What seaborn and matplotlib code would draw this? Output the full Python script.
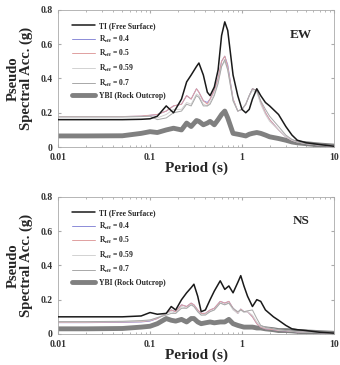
import numpy as np
import pandas as pd
import seaborn as sns
import matplotlib
matplotlib.use('Agg')
import matplotlib.pyplot as plt
from matplotlib.ticker import FixedLocator, FixedFormatter

# データ (周期と擬似応答加速度)
periods_ew = [0.01, 0.02, 0.05, 0.08, 0.1, 0.12, 0.15, 0.18, 0.22, 0.25, 0.28, 0.32, 0.34, 0.38,
              0.42, 0.45, 0.5, 0.55, 0.6, 0.65, 0.7, 0.8, 0.9, 1.0, 1.1, 1.2, 1.3, 1.45, 1.6,
              1.8, 2.0, 2.5, 3.0, 3.5, 4.0, 5.0, 7.0, 10.0]
ti_ew = [0.16, 0.16, 0.16, 0.162, 0.165, 0.18, 0.24, 0.20, 0.28, 0.38, 0.42, 0.47, 0.49, 0.42,
         0.32, 0.30, 0.35, 0.45, 0.65, 0.73, 0.68, 0.42, 0.30, 0.22, 0.20, 0.22, 0.28, 0.34, 0.30,
         0.26, 0.24, 0.19, 0.12, 0.07, 0.04, 0.025, 0.015, 0.005]
r04_ew = [0.178, 0.178, 0.178, 0.18, 0.185, 0.19, 0.21, 0.24, 0.25, 0.30, 0.28, 0.34, 0.32, 0.27,
          0.26, 0.28, 0.33, 0.40, 0.50, 0.53, 0.48, 0.28, 0.21, 0.22, 0.25, 0.30, 0.34, 0.33, 0.26,
          0.20, 0.16, 0.10, 0.06, 0.04, 0.03, 0.02, 0.012, 0.005]
r05_ew = [0.178, 0.178, 0.178, 0.181, 0.186, 0.19, 0.21, 0.24, 0.25, 0.30, 0.28, 0.34, 0.32, 0.27,
          0.25, 0.28, 0.33, 0.40, 0.50, 0.53, 0.47, 0.28, 0.21, 0.22, 0.25, 0.30, 0.34, 0.33, 0.26,
          0.20, 0.16, 0.10, 0.06, 0.04, 0.03, 0.02, 0.012, 0.005]
r059_ew = [0.176, 0.176, 0.176, 0.178, 0.18, 0.17, 0.19, 0.22, 0.22, 0.26, 0.25, 0.31, 0.30, 0.25,
           0.24, 0.26, 0.31, 0.38, 0.47, 0.50, 0.45, 0.27, 0.21, 0.22, 0.25, 0.30, 0.33, 0.32, 0.25,
           0.19, 0.15, 0.10, 0.06, 0.04, 0.03, 0.02, 0.012, 0.005]
r07_ew = [0.176, 0.176, 0.176, 0.178, 0.18, 0.16, 0.17, 0.20, 0.21, 0.25, 0.24, 0.30, 0.29, 0.24,
          0.24, 0.25, 0.30, 0.37, 0.47, 0.51, 0.45, 0.27, 0.21, 0.22, 0.25, 0.30, 0.34, 0.33, 0.27,
          0.22, 0.18, 0.12, 0.07, 0.045, 0.03, 0.02, 0.012, 0.005]
ybi_ew = [0.065, 0.065, 0.066, 0.08, 0.09, 0.085, 0.10, 0.11, 0.10, 0.14, 0.12, 0.155, 0.15, 0.13,
          0.14, 0.15, 0.13, 0.16, 0.19, 0.21, 0.17, 0.08, 0.075, 0.07, 0.065, 0.075, 0.08, 0.085, 0.08,
          0.07, 0.06, 0.05, 0.04, 0.03, 0.025, 0.02, 0.012, 0.006]

periods_ns = [0.01, 0.02, 0.05, 0.08, 0.1, 0.12, 0.15, 0.17, 0.19, 0.22, 0.25, 0.28, 0.3, 0.33,
              0.36, 0.4, 0.45, 0.5, 0.58, 0.65, 0.72, 0.8, 0.9, 0.97, 1.05, 1.15, 1.3, 1.45, 1.6,
              1.8, 2.2, 2.5, 3.0, 3.5, 4.0, 5.0, 7.0, 10.0]
ti_ns = [0.10, 0.10, 0.10, 0.105, 0.125, 0.115, 0.12, 0.16, 0.14, 0.20, 0.24, 0.27, 0.29, 0.22,
         0.13, 0.14, 0.20, 0.25, 0.31, 0.26, 0.28, 0.24, 0.30, 0.34, 0.28, 0.22, 0.16, 0.20, 0.19,
         0.14, 0.10, 0.08, 0.05, 0.03, 0.025, 0.02, 0.01, 0.005]
r04_ns = [0.066, 0.066, 0.068, 0.07, 0.075, 0.09, 0.12, 0.14, 0.13, 0.17, 0.16, 0.18, 0.17, 0.14,
          0.12, 0.12, 0.14, 0.15, 0.19, 0.18, 0.19, 0.15, 0.12, 0.145, 0.13, 0.13, 0.10, 0.06, 0.04,
          0.03, 0.025, 0.02, 0.018, 0.015, 0.012, 0.01, 0.008, 0.004]
r05_ns = [0.068, 0.068, 0.07, 0.072, 0.078, 0.09, 0.12, 0.14, 0.13, 0.17, 0.16, 0.18, 0.17, 0.14,
          0.12, 0.12, 0.14, 0.15, 0.19, 0.18, 0.19, 0.15, 0.12, 0.145, 0.13, 0.13, 0.10, 0.06, 0.04,
          0.03, 0.025, 0.02, 0.018, 0.015, 0.012, 0.01, 0.008, 0.004]
r059_ns = [0.07, 0.07, 0.072, 0.075, 0.08, 0.095, 0.12, 0.13, 0.12, 0.16, 0.15, 0.17, 0.16, 0.13,
           0.11, 0.115, 0.13, 0.14, 0.18, 0.17, 0.18, 0.14, 0.12, 0.14, 0.125, 0.13, 0.11, 0.07, 0.045,
           0.035, 0.03, 0.022, 0.02, 0.016, 0.013, 0.01, 0.008, 0.004]
r07_ns = [0.072, 0.072, 0.074, 0.078, 0.082, 0.095, 0.11, 0.12, 0.12, 0.15, 0.15, 0.17, 0.16, 0.13,
          0.11, 0.11, 0.13, 0.14, 0.18, 0.17, 0.18, 0.15, 0.13, 0.14, 0.13, 0.135, 0.14, 0.09, 0.05,
          0.04, 0.03, 0.025, 0.02, 0.016, 0.013, 0.01, 0.008, 0.004]
ybi_ns = [0.03, 0.03, 0.032, 0.04, 0.045, 0.06, 0.09, 0.08, 0.075, 0.085, 0.07, 0.09, 0.09, 0.07,
          0.06, 0.065, 0.07, 0.065, 0.07, 0.07, 0.085, 0.06, 0.05, 0.045, 0.04, 0.04, 0.04, 0.035,
          0.035, 0.03, 0.025, 0.02, 0.02, 0.018, 0.015, 0.012, 0.008, 0.004]

labels = ['TI (Free Surface)', r'R$_{\mathregular{eff}}$ = 0.4', r'R$_{\mathregular{eff}}$ = 0.5',
          r'R$_{\mathregular{eff}}$ = 0.59', r'R$_{\mathregular{eff}}$ = 0.7', 'YBI (Rock Outcrop)']
colors = ['#1a1a1a', '#8c8cd8', '#e0a0a0', '#d2d2d2', '#a8a8a8', '#808080']
widths = [1.1, 0.7, 0.7, 0.7, 0.7, 3.5]

# スタイル指定
sns.set_style('ticks')
plt.rcParams['font.family'] = ['Liberation Serif', 'DejaVu Serif']
plt.rcParams['font.weight'] = 'bold'
plt.rcParams['mathtext.default'] = 'regular'

fig = plt.figure(figsize=(3.4, 3.65), dpi=100)
ax1 = fig.add_axes([0.171, 0.597, 0.811, 0.376])
ax2 = fig.add_axes([0.171, 0.085, 0.811, 0.376])

panels = [(ax1, periods_ew, [ti_ew, r04_ew, r05_ew, r059_ew, r07_ew, ybi_ew], 'EW'),
          (ax2, periods_ns, [ti_ns, r04_ns, r05_ns, r059_ns, r07_ns, ybi_ns], 'NS')]

for ax, per, series, name in panels:
    # 描画順: 太線→細線→TI
    order = [5, 1, 2, 3, 4, 0]
    for i in order:
        sns.lineplot(x=per, y=series[i], ax=ax, color=colors[i], lw=widths[i],
                     label=labels[i], zorder=3 if i == 0 else 2)
    ax.set_xscale('log')
    ax.set_xlim(0.01, 10)
    ax.set_ylim(0, 0.8)
    ax.xaxis.set_major_locator(FixedLocator([0.01, 0.1, 1, 10]))
    ax.xaxis.set_major_formatter(FixedFormatter(['0.01', '0.1', '1', '10']))
    ax.set_yticks([0, 0.2, 0.4, 0.6, 0.8])
    ax.set_yticklabels(['0', '0.2', '0.4', '0.6', '0.8'])
    ax.tick_params(axis='both', which='both', direction='in', top=True, right=True,
                   labelsize=7, colors='#aaaaaa', labelcolor='#333333', length=2.5)
    ax.tick_params(axis='x', pad=4)
    ax.tick_params(axis='y', pad=4)
    ax.tick_params(which='minor', length=1.5)
    for s in ax.spines.values():
        s.set_color('#aaaaaa')
        s.set_linewidth(0.6)
    ax.set_xlabel('Period (s)', fontsize=11, fontweight='bold', labelpad=0)
    ax.set_ylabel('Pseudo\nSpectral Acc. (g)', fontsize=10.5, fontweight='bold', labelpad=5,
                  linespacing=1.05)
    ax.text(0.88, 0.82, name, transform=ax.transAxes, fontsize=9.5, fontweight='bold',
            ha='center', va='center')
    h, l = ax.get_legend_handles_labels()
    idx = [l.index(lab) for lab in labels]
    ax.legend([h[k] for k in idx], [l[k] for k in idx], loc='upper left', frameon=False,
              fontsize=5.5, handlelength=3.0, handletextpad=0.6, labelspacing=0.45,
              bbox_to_anchor=(0.03, 0.95), borderaxespad=0.3)

fig.savefig('out.png', dpi=100)
